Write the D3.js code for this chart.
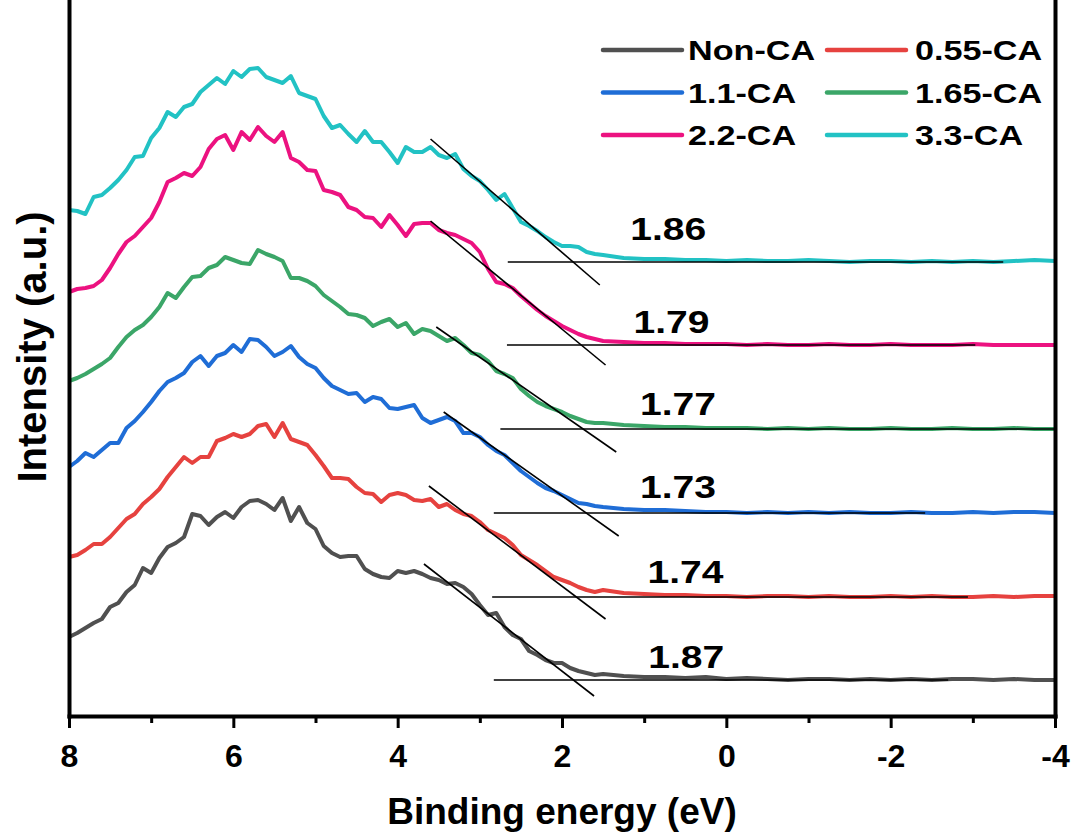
<!DOCTYPE html>
<html>
<head>
<meta charset="utf-8">
<script src="https://cdn.jsdelivr.net/npm/d3@7"></script>
<style>
body { margin: 0; background: #fff; }
text { font-family: "Liberation Sans", Arial, sans-serif; font-weight: bold; }
</style>
</head>
<body>
<svg id="chart"></svg>
<script>
// binding energy grid (eV)
const energy = [
  8.0, 7.9, 7.8, 7.7, 7.6, 7.5, 7.4, 7.3, 7.2, 7.1,
  7.0, 6.9, 6.8, 6.7, 6.6, 6.5, 6.4, 6.3, 6.2, 6.1,
  6.0, 5.9, 5.8, 5.7, 5.6, 5.5, 5.4, 5.3, 5.2, 5.1,
  5.0, 4.9, 4.8, 4.7, 4.6, 4.5, 4.4, 4.3, 4.2, 4.1,
  4.0, 3.9, 3.8, 3.7, 3.6, 3.5, 3.4, 3.3, 3.2, 3.1,
  3.0, 2.9, 2.8, 2.7, 2.6, 2.5, 2.4, 2.3, 2.2, 2.1,
  2.0, 1.9, 1.8, 1.7, 1.6, 1.5,
  1.25, 1.0, 0.75, 0.5, 0.25, 0, -0.25, -0.5, -0.75, -1.0, -1.25,
  -1.5, -1.75, -2.0, -2.25, -2.5, -2.75, -3.0, -3.25, -3.5, -3.75, -4.0
];

const samples = ["Non-CA", "0.55-CA", "1.1-CA", "1.65-CA", "2.2-CA", "3.3-CA"];
const colors = ["#505050", "#e6423f", "#1f6dd6", "#3ba668", "#ec1280", "#22c2c4"];

// vertical stacking offset of each trace (a.u.)
const offsets = [0.36, 1.19, 2.03, 2.87, 3.71, 4.54];

// intensity above each trace's own baseline (a.u.)
const nonCA = [
  0.43,0.47,0.52,0.57,0.61,0.73,0.77,0.88,0.95,1.12,
  1.07,1.22,1.33,1.37,1.43,1.66,1.64,1.55,1.63,1.68,
  1.62,1.73,1.79,1.80,1.76,1.70,1.82,1.59,1.73,1.57,
  1.51,1.34,1.27,1.23,1.24,1.24,1.11,1.06,1.03,1.02,
  1.09,1.07,1.09,1.06,1.02,1.00,0.96,0.97,0.93,0.86,
  0.75,0.65,0.67,0.53,0.45,0.41,0.29,0.25,0.20,0.17,
  0.17,0.12,0.09,0.07,0.05,0.06,
  0.04,0.03,0.03,0.02,0.03,0.01,0.02,0.01,0.00,0.01,0.01,
  0.00,0.01,0.00,0.01,0.00,0.01,0.01,0.00,0.01,0.00,0.00
];
const ca055 = [
  0.40,0.42,0.47,0.53,0.53,0.60,0.69,0.78,0.83,0.93,
  1.00,1.08,1.20,1.30,1.40,1.34,1.40,1.40,1.56,1.59,
  1.63,1.60,1.63,1.71,1.73,1.60,1.74,1.58,1.55,1.52,
  1.42,1.31,1.19,1.19,1.18,1.10,1.04,1.03,0.95,1.02,
  1.04,1.02,0.97,0.96,0.98,0.90,0.93,0.87,0.83,0.81,
  0.75,0.67,0.63,0.59,0.52,0.42,0.37,0.32,0.26,0.20,
  0.17,0.14,0.10,0.07,0.05,0.07,
  0.04,0.03,0.02,0.02,0.01,0.01,0.00,0.01,0.01,0.00,0.01,
  0.00,0.00,0.01,0.00,0.01,0.00,0.00,0.01,0.00,0.01,0.01
];
const ca11 = [
  0.46,0.52,0.60,0.56,0.63,0.70,0.70,0.85,0.92,1.01,
  1.11,1.22,1.31,1.35,1.40,1.51,1.57,1.47,1.57,1.60,
  1.68,1.61,1.74,1.73,1.66,1.57,1.61,1.67,1.56,1.49,
  1.45,1.35,1.27,1.23,1.19,1.20,1.11,1.16,1.14,1.05,
  1.04,1.06,1.08,0.95,0.90,0.93,0.96,0.92,0.80,0.80,
  0.76,0.68,0.62,0.58,0.50,0.42,0.36,0.30,0.25,0.22,
  0.18,0.14,0.10,0.09,0.07,0.06,
  0.04,0.03,0.03,0.02,0.01,0.01,0.00,0.01,0.00,0.01,0.00,
  0.01,0.00,0.00,0.01,0.00,0.00,0.01,0.00,0.01,0.01,0.00
];
const ca165 = [
  0.48,0.51,0.55,0.60,0.65,0.71,0.82,0.92,0.99,1.04,
  1.12,1.22,1.36,1.31,1.42,1.52,1.53,1.61,1.64,1.72,
  1.69,1.66,1.65,1.79,1.75,1.72,1.68,1.51,1.51,1.48,
  1.43,1.34,1.28,1.22,1.15,1.14,1.11,1.03,1.07,1.10,
  1.02,1.06,0.95,1.00,0.98,0.93,0.88,0.91,0.84,0.76,
  0.74,0.68,0.58,0.55,0.51,0.40,0.33,0.27,0.23,0.20,
  0.17,0.13,0.10,0.07,0.06,0.06,
  0.04,0.03,0.02,0.02,0.01,0.01,0.01,0.00,0.01,0.00,0.01,
  0.00,0.00,0.01,0.00,0.00,0.01,0.00,0.00,0.01,0.00,0.00
];
const ca22 = [
  0.53,0.56,0.57,0.59,0.65,0.77,0.91,1.03,1.09,1.18,
  1.27,1.43,1.63,1.67,1.72,1.69,1.78,1.96,2.06,2.10,
  1.95,2.13,2.05,2.18,2.09,2.03,2.13,1.87,1.83,1.75,
  1.74,1.55,1.53,1.50,1.38,1.35,1.28,1.27,1.18,1.30,
  1.20,1.09,1.21,1.22,1.22,1.15,1.12,1.10,1.06,1.02,
  0.93,0.76,0.63,0.61,0.57,0.49,0.42,0.35,0.29,0.24,
  0.19,0.15,0.11,0.08,0.06,0.04,
  0.03,0.02,0.02,0.01,0.01,0.01,0.00,0.01,0.00,0.00,0.01,
  0.00,0.00,0.01,0.00,0.00,0.00,0.01,0.00,0.00,0.00,0.00
];
const ca33 = [
  0.52,0.51,0.48,0.65,0.67,0.74,0.82,0.92,1.05,1.06,
  1.24,1.34,1.50,1.45,1.55,1.58,1.70,1.77,1.84,1.78,
  1.91,1.85,1.93,1.94,1.85,1.82,1.79,1.86,1.69,1.66,
  1.63,1.46,1.34,1.37,1.28,1.20,1.31,1.20,1.20,1.10,
  0.99,1.15,1.10,1.10,1.15,1.07,1.04,1.08,0.93,0.86,
  0.81,0.72,0.62,0.68,0.54,0.40,0.36,0.31,0.25,0.20,
  0.16,0.16,0.15,0.10,0.08,0.07,
  0.04,0.03,0.03,0.02,0.02,0.01,0.02,0.01,0.01,0.02,0.01,
  0.00,0.01,0.01,0.00,0.01,0.00,0.01,0.00,0.01,0.02,0.01
];
const intensities = [nonCA, ca055, ca11, ca165, ca22, ca33];

// band gap fits: tangent line ends [energy, intensity above baseline], baseline line span
const gaps = ["1.87", "1.74", "1.73", "1.77", "1.79", "1.86"];
const tangentFrom = [[3.68, 1.16], [3.62, 1.11], [3.44, 1.01], [3.53, 1.02], [3.60, 1.24], [3.60, 1.23]];
const tangentTo = [[1.61, -0.16], [1.47, -0.22], [1.31, -0.23], [1.34, -0.23], [1.47, -0.20], [1.54, -0.23]];
const baseFrom = [2.83, 2.85, 2.83, 2.75, 2.67, 2.66];
const baseTo = [-2.70, -2.94, -2.42, -4.0, -3.03, -3.37];
const gapLabelAt = [[0.95, 0.12], [0.96, 0.14], [1.05, 0.15], [1.05, 0.14], [1.13, 0.12], [1.17, 0.22]];

const majorTicks = [8, 6, 4, 2, 0, -2, -4];
const minorTicks = [7, 5, 3, 1, -1, -3];

const width = 1075;
const height = 832;

const svg = d3.select("#chart")
    .attr("width", width)
    .attr("height", height);

const x = d3.scaleLinear().domain([8, -4]).range([69, 1055]);
const y = d3.scaleLinear().domain([0, 7.16]).range([716, 0]);

// traces
const line = d3.line()
    .x(d => x(d[0]))
    .y(d => y(d[1]));

svg.append("g")
    .attr("fill", "none")
    .attr("stroke-width", 4)
    .attr("stroke-linejoin", "round")
    .selectAll("path")
    .data(samples)
    .join("path")
    .attr("stroke", (d, i) => colors[i])
    .attr("d", (d, i) => line(energy.map((e, j) => [e, offsets[i] + intensities[i][j]])));

// tangent and baseline fits
const fits = svg.append("g").attr("stroke", "#000").attr("stroke-width", 1.6);
samples.forEach((s, i) => {
    fits.append("line")
        .attr("x1", x(tangentFrom[i][0])).attr("y1", y(offsets[i] + tangentFrom[i][1]))
        .attr("x2", x(tangentTo[i][0])).attr("y2", y(offsets[i] + tangentTo[i][1]));
    fits.append("line")
        .attr("x1", x(baseFrom[i])).attr("y1", y(offsets[i]))
        .attr("x2", x(baseTo[i])).attr("y2", y(offsets[i]));
});

// stretch bold text horizontally to match the original lettering
function stretch(sel, k) {
    sel.each(function () {
        const w = this.getComputedTextLength();
        d3.select(this).attr("textLength", w * k).attr("lengthAdjust", "spacingAndGlyphs");
    });
}

svg.append("g")
    .selectAll("text")
    .data(gaps)
    .join("text")
    .attr("x", (d, i) => x(gapLabelAt[i][0]))
    .attr("y", (d, i) => y(offsets[i] + gapLabelAt[i][1]))
    .attr("font-size", 32)
    .attr("fill", "#000")
    .text(d => d)
    .call(stretch, 1.22);

// axes / frame
const xAxis = svg.append("g")
    .attr("transform", "translate(0,716)")
    .call(d3.axisBottom(x).tickValues(majorTicks).tickFormat(d => String(d))
        .tickSizeInner(12).tickSizeOuter(0).tickPadding(16));
xAxis.select(".domain").attr("stroke-width", 4).attr("stroke-linecap", "square");
xAxis.selectAll(".tick line").attr("stroke-width", 3);
xAxis.selectAll(".tick text")
    .attr("font-size", 32)
    .attr("font-family", "'Liberation Sans', Arial, sans-serif")
    .attr("font-weight", "bold")
    .attr("fill", "#000");

svg.append("g")
    .attr("transform", "translate(0,716)")
    .call(d3.axisBottom(x).tickValues(minorTicks).tickFormat("").tickSizeInner(7).tickSizeOuter(0))
    .call(g => g.select(".domain").remove())
    .selectAll(".tick line").attr("stroke-width", 3);

svg.append("g")
    .attr("transform", "translate(69,0)")
    .call(d3.axisLeft(y).tickValues([]).tickSizeOuter(0))
    .select(".domain").attr("stroke-width", 4).attr("stroke-linecap", "square");

svg.append("g")
    .attr("transform", "translate(1055,0)")
    .call(d3.axisRight(y).tickValues([]).tickSizeOuter(0))
    .select(".domain").attr("stroke-width", 4).attr("stroke-linecap", "square");

// axis titles
svg.append("text")
    .attr("x", 562)
    .attr("y", 824)
    .attr("text-anchor", "middle")
    .attr("font-size", 37)
    .text("Binding energy (eV)");

svg.append("text")
    .attr("transform", "translate(46,347) rotate(-90)")
    .attr("text-anchor", "middle")
    .attr("font-size", 40)
    .text("Intensity (a.u.)");

// legend, two columns
const legend = svg.append("g")
    .selectAll("g")
    .data(samples)
    .join("g")
    .attr("transform", (d, i) => `translate(${i % 2 ? 827 : 603},${50 + Math.floor(i / 2) * 42.5})`);

legend.append("line")
    .attr("x1", 0).attr("x2", 79)
    .attr("stroke", (d, i) => colors[i])
    .attr("stroke-width", 4.5)
    .attr("stroke-linecap", "round");

legend.append("text")
    .attr("x", (d, i) => i % 2 ? 88 : 85)
    .attr("y", 10)
    .attr("font-size", 28)
    .text(d => d)
    .call(stretch, 1.22);
</script>
</body>
</html>
